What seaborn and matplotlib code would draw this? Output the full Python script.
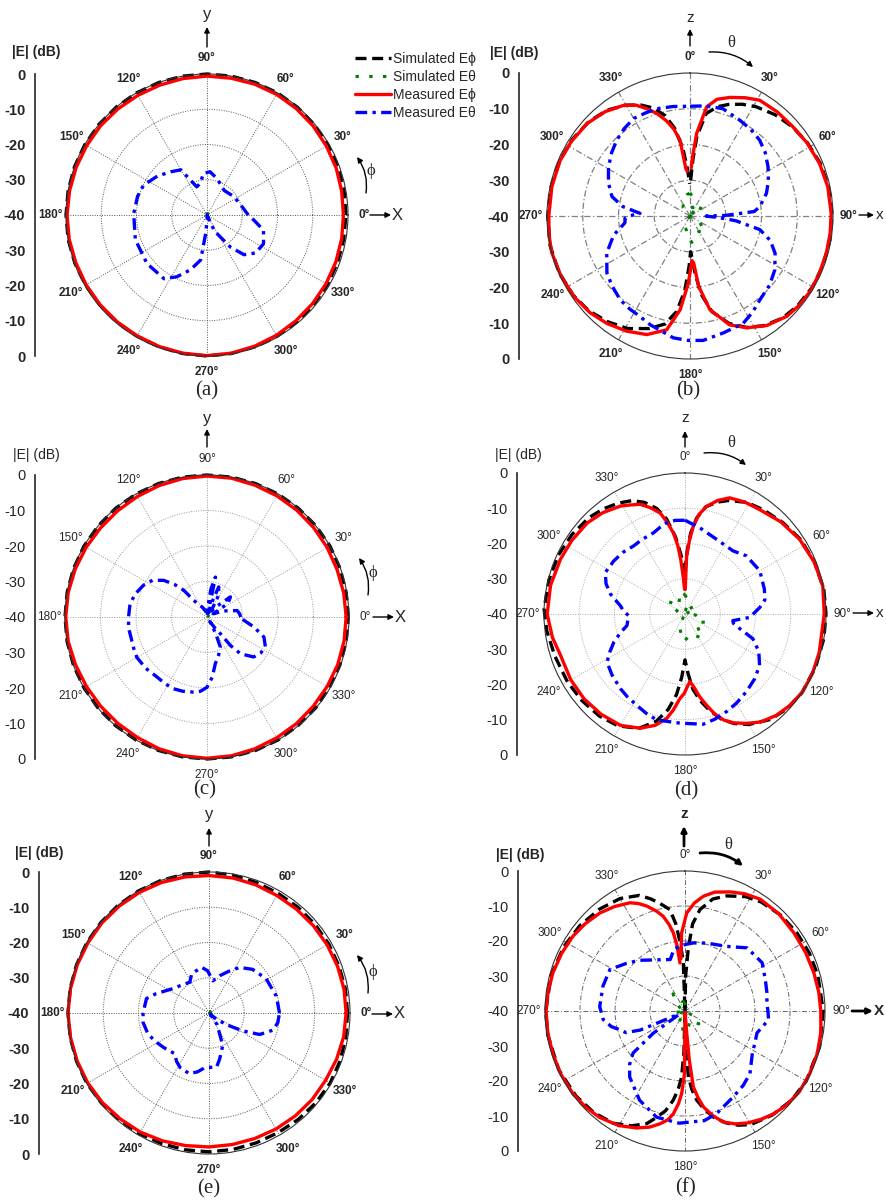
import numpy as np
import matplotlib
matplotlib.use('Agg')
import matplotlib.pyplot as plt
from matplotlib.ticker import MultipleLocator
import seaborn as sns

sns.set_style('white')
plt.rcParams['font.family'] = ['Liberation Sans', 'DejaVu Sans']

W, H = 886, 1204
ring_deg = np.arange(0, 361, 10)

# ---------------- data (angle in deg, |E| in dB) ----------------
# (a) xy-plane
a_sphi_db = [-0.6, -0.5, -0.4, -0.3, -0.2, -0.1, 0, 0, 0, 0, 0, 0,
             0, 0, 0, 0, 0, 0, 0, 0, -0.1, -0.2, -0.3, -0.3,
             -0.3, -0.2, -0.1, 0, -0.1, -0.2, -0.3, -0.4, -0.5, -0.5, -0.6, -0.6,
             -0.6]
a_mphi_db = [-1.3, -1.2, -1.0, -0.9, -0.7, -0.6, -0.5, -0.5, -0.6, -0.6, -0.7, -0.8,
             -0.8, -0.7, -0.6, -0.6, -0.5, -0.4, -0.3, -0.3, -0.4, -0.4, -0.4, -0.4,
             -0.4, -0.3, -0.2, -0.1, -0.2, -0.4, -0.6, -0.8, -0.9, -1.0, -1.1, -1.2,
             -1.3]
a_sth = [(0, -39.5), (90, -39.6), (180, -39.5), (270, -39.4), (360, -39.5)]
a_mth = [(0, -28.3), (10, -29.5), (20, -30.2), (35, -30.8), (55, -31.5), (70, -30),
         (78, -28.9), (86, -27.7), (95, -28.2), (102, -30.8), (110, -31.5), (120, -25.2),
         (130, -24), (142, -22.1), (155, -20.1), (165, -19.6), (179, -19.2), (199, -18.5),
         (219, -18.1), (236, -18.2), (244, -20.5), (253, -23.7), (262, -27.1), (266, -34.8),
         (275, -39), (285, -40), (295, -35), (306, -28.8), (313, -24.6), (322, -22.5),
         (333, -22), (345, -23.4), (354, -26.7), (360, -28.3)]

# (b) xz-plane
b_sphi = [(1, -30), (3, -24), (5, -17.5), (9, -11), (14, -8.5), (19, -7), (25, -5.5),
          (31, -4.3), (40, -3), (49, -2), (58, -1.3), (68, -0.7), (78, -0.4), (89, -0.3),
          (100, -0.3), (110, -0.3), (120, -0.4), (130, -0.8), (138, -1.5), (146, -3),
          (153, -5), (160, -8), (167, -12.5), (172, -18), (175, -24), (177, -28), (179, -30),
          (181, -26), (184, -19), (188, -13), (193, -9), (200, -6.5), (209, -4), (218, -2.5),
          (227, -1.2), (236, -0.5), (247, -0.1), (258, 0), (270, -0.2), (282, -0.3),
          (293, -0.4), (303, -0.7), (313, -1.3), (322, -2.4), (330, -4.2), (336, -6),
          (341, -8), (346, -11), (350, -15), (354, -21), (357, -27), (359.5, -31)]
b_mphi = [(1.5, -26.5), (2.5, -23.4), (4.6, -16.8), (8.7, -9.1), (13, -6.5), (18.6, -5),
          (25, -3.5), (31, -2.2), (40, -2), (49, -1.9), (58, -1.4), (68, -0.9), (78, -0.6),
          (89, -0.5), (97, -0.5), (105, -0.5), (114, -0.4), (122, -0.3), (130, -0.6),
          (136, -1), (145, -2.6), (153, -4.9), (160, -7.6), (168, -13.2), (173, -20.2),
          (175.5, -26.8), (177.5, -27.5), (179.5, -25), (181.4, -21.2), (186, -13.6),
          (191.6, -7.5), (200, -4.7), (209, -3.2), (217.8, -2), (226, -1.1), (235, -0.5),
          (245, -0.2), (255, 0), (262, -0.2), (270, -0.5), (282, -0.5), (293, -0.5),
          (302, -0.8), (312, -1.3), (321, -2.4), (329, -3.9), (334, -5.5), (338, -7.6),
          (342, -9.8), (346, -12.5), (349.5, -15.3), (352.5, -18.6), (355, -26.7),
          (356.5, -27.5)]
b_sth = [(0, -33.5), (10, -35), (20, -38), (30, -40), (40, -37), (49, -35.7), (60, -37),
         (75, -40), (90, -40), (105, -40), (120, -37), (137, -34), (150, -35), (165, -34),
         (176, -32.6), (185, -34), (195, -36), (204, -36.5), (215, -38), (230, -40),
         (260, -40), (290, -40), (320, -37), (335, -35.5), (344, -34.9), (352, -34),
         (360, -33.5)]
b_mth = [(0, -9.3), (8, -8.9), (17, -8.6), (27.5, -9.8), (35, -10.4), (42.6, -11.2),
         (50, -12.5), (57.8, -14.2), (66, -16), (73.5, -17.7), (82.4, -20.3), (86, -22),
         (89, -30), (90.5, -35.5), (93, -32), (96, -27), (98, -25), (101, -20.1),
         (107, -16.5), (113.7, -14), (122.4, -11.9), (131, -10.5), (140, -9.5), (147, -7.9),
         (153.6, -6.5), (164, -6), (174, -5), (181, -5.2), (187.8, -5.6), (200, -7.6),
         (206.4, -8.6), (213, -9), (219.8, -9.5), (228, -10.7), (235.5, -11.8), (246, -14.5),
         (256, -18), (264, -21.7), (268, -21.8), (271, -24), (273, -26), (278, -21),
         (284, -17.5), (292, -15.4), (301, -13.4), (309, -11.8), (316, -10.5), (323, -9.4),
         (330, -8.5), (337, -8.6), (342.8, -8.6), (351, -9), (360, -9.3)]

# (c) xy-plane
c_sphi_db = [-0.2, -0.2, -0.1, 0, 0, 0, 0, 0, 0, 0, 0, 0,
             0, 0, 0, 0, 0, 0, 0, 0, 0, 0, 0, 0,
             0, 0, 0, 0, 0, 0, 0, -0.1, -0.1, -0.2, -0.2, -0.2,
             -0.2]
c_mphi_db = [-0.8, -0.9, -1.0, -0.9, -0.8, -0.7, -0.6, -0.5, -0.3, -0.3, -0.4, -0.6,
             -0.8, -0.9, -0.9, -0.7, -0.5, -0.3, -0.2, -0.3, -0.6, -0.8, -0.9, -0.9,
             -0.8, -0.5, -0.3, -0.2, -0.3, -0.5, -0.7, -0.8, -0.9, -0.9, -0.8, -0.8,
             -0.8]
c_sth = [(0, -39.3), (90, -39.5), (180, -39.4), (270, -39.5), (360, -39.3)]
c_mth = [(0, -30.5), (6, -30.8), (12, -31.3), (20, -35), (27, -38), (33, -33),
         (40.6, -31.3), (48, -36), (55, -38), (62, -33), (68.7, -30.9), (72, -36), (75, -39),
         (78, -28.5), (82, -32), (88, -38), (100, -38.5), (115, -37), (128.7, -34), (131, -30),
         (135, -27), (139.8, -24), (146, -21.5), (153.4, -20), (162, -18.8), (170.3, -18),
         (180, -17.9), (188, -17.7), (197, -17.8), (204, -17.5), (210, -17.2), (220, -17.5),
         (230, -18), (238, -17.8), (245, -17.7), (252, -18), (260, -18.5), (265, -19),
         (270, -20.2), (275, -23), (280, -26.6), (287, -28.8), (294, -30.8), (298, -35),
         (302, -38.5), (306, -36), (308.7, -34), (309.5, -29.6), (312.3, -26), (319.4, -22.7),
         (326, -21.8), (332.8, -21.5), (340.6, -23), (348, -26.5), (355, -29.6), (360, -30.5)]

# (d) xz-plane
d_sphi = [(0, -28), (2, -22), (4, -17), (7, -12.5), (11, -9), (16, -7), (21, -5.5),
          (29, -3.8), (37, -3), (47, -2), (57, -1), (68, -0.4), (80, 0), (90, 0), (100, 0),
          (112, 0), (124, 0), (133, -0.5), (141, -1.5), (150, -3.8), (156, -6), (161, -8.5),
          (166, -12), (170, -15), (174, -18.5), (177, -23), (180, -27), (183, -22), (186, -17),
          (190, -12.5), (195, -8.5), (202, -5), (211, -3), (220, -2.2), (230, -1.8),
          (240, -1.5), (252, -1.2), (263, -0.5), (272, 0), (284, -0.2), (295, -0.4),
          (305, -0.8), (315, -1.4), (322, -2.2), (329, -3.3), (335, -4.5), (340, -6.3),
          (345, -9), (349, -12.5), (353, -18), (356, -23), (359, -27), (360, -28)]
d_mphi = [(0.5, -33), (1.6, -23.5), (3.5, -19), (5.4, -15), (8, -11.5), (11.3, -8.9),
          (16, -6.5), (21, -4.7), (28, -4), (35.5, -3.6), (46, -2.3), (56.9, -1.2),
          (68, -0.5), (78.4, -0.1), (90, -0.5), (105.9, -0.4), (115, -0.1), (123.5, 0),
          (131, -0.5), (138, -1.3), (145, -2.6), (150.7, -4.4), (156, -6.2), (160, -8),
          (163.5, -10.5), (166.7, -13.4), (170, -16.2), (172.4, -18.6), (175.8, -20.8),
          (178, -19.5), (180.5, -17.5), (183.4, -16), (187, -12.5), (190, -9.9), (195, -7.3),
          (201.4, -5.2), (210, -3.5), (220, -2.9), (230, -2.6), (240, -2.6), (251.6, -2.8),
          (260, -1.8), (270, -0.9), (282, -1), (293.7, -1.4), (303, -1.7), (313, -2.1),
          (321, -3), (329, -4.3), (333, -5.3), (337.8, -6.4), (342, -8.3), (346.2, -10.5),
          (349, -13.5), (351.9, -16.8), (354, -20.5), (355.5, -24.4), (357.5, -30), (359, -33)]
d_sth = [(0, -34.5), (10, -36), (25, -40), (40, -38), (51, -36.4), (65, -38), (80, -40),
         (95, -37), (112, -33.9), (128, -36), (145, -31.7), (163, -34), (182, -32.3),
         (195, -35), (207, -36.8), (225, -40), (260, -40), (285, -38), (307, -34.3),
         (325, -37), (347, -33.6), (360, -34.5)]
d_mth = [(0, -13.4), (9.8, -15.2), (22.9, -17), (37.3, -17.5), (46.6, -16), (60, -15.5),
         (72.6, -16.4), (80, -17), (85, -18.7), (93, -21.6), (97.9, -26.3), (101, -26),
         (105, -23.9), (110, -19.5), (117, -16.5), (124.6, -14.3), (133, -13), (141.8, -11.9),
         (150, -10.8), (157, -9.9), (164, -9), (170.6, -8.3), (182.6, -9), (194.9, -8.9),
         (201, -9.7), (207.8, -10.7), (215, -11.4), (220.9, -12), (230, -13), (238.3, -14),
         (243, -16), (248.4, -18.3), (254, -21), (258.7, -23.2), (268.3, -24), (273, -22.5),
         (277.3, -21.5), (285, -18.1), (291, -16), (297.5, -14.5), (306.7, -14.8),
         (315, -15.2), (322.9, -15.8), (330, -15.6), (338.8, -15.3), (344, -14.4),
         (348.7, -13.6), (354, -13.3), (360, -13.4)]

# (e) xy-plane
e_sphi_db = [-0.7, -0.7, -0.8, -0.8, -0.8, -0.8, -0.8, -0.6, -0.3, 0, 0, 0,
             0, 0, 0, 0, 0, 0, 0, 0, 0, 0, -0.2, -0.4,
             -0.5, -0.6, -0.6, -0.6, -0.7, -0.8, -0.8, -0.6, -0.4, -0.3, -0.4, -0.6,
             -0.7]
e_mphi_db = [-1.1, -1.1, -1.2, -1.3, -1.4, -1.5, -1.5, -1.3, -1.1, -1.0, -0.8, -0.6,
             -0.5, -0.4, -0.3, -0.3, -0.2, -0.1, 0, -0.1, -0.2, -0.3, -0.5, -0.8,
             -1.0, -1.4, -1.8, -2.0, -2.1, -2.1, -2.0, -1.9, -1.8, -1.8, -1.5, -1.2,
             -1.1]
e_sth = [(0, -39.2), (90, -39.4), (180, -39.3), (270, -39.5), (360, -39.2)]
e_mth = [(0, -20), (14, -20.3), (31, -21.1), (45, -22.5), (56, -24.4), (65, -27), (74, -29),
         (83, -30.8), (92, -28), (99, -26.9), (107, -27.5), (114, -27.9), (122, -29.7),
         (137, -28.7), (145, -27.8), (152, -26.4), (160, -24), (167, -21.8), (180, -21.3),
         (188, -21.1), (199, -21.7), (208, -22.8), (217, -23.8), (230, -24.9), (236, -23.5),
         (242, -22.5), (252, -21.9), (259, -23), (266, -24.5), (278, -24.5), (283, -26.6),
         (293, -30), (305, -36), (315, -39.5), (320, -37), (328, -33.1), (332, -29.2),
         (337, -24.4), (345, -21.2), (352, -20.3), (360, -20)]

# (f) xz-plane
f_sphi = [(0.5, -40), (1, -30), (3, -22), (5, -15), (8.4, -10.7), (14, -7), (20, -5),
          (28, -3), (35, -2), (45, -1.3), (55, -1), (65, -0.8), (75, -0.7), (90, -0.5),
          (105, -0.2), (120, 0), (130, -0.3), (140, -1.2), (150, -2.5), (155, -4), (160, -6),
          (165, -8.6), (169, -11.5), (172.5, -14.3), (175, -17.5), (177, -21), (178.5, -28),
          (179.5, -40), (180.5, -40), (181.5, -28), (183, -21), (185, -17.5), (187.5, -14.3),
          (191, -11), (195, -8.5), (198.8, -6), (205, -3.8), (212.7, -1.9), (222, -1),
          (232, -0.5), (245, -0.2), (260, -0.2), (270, -0.2), (285, -0.4), (298, -0.8),
          (309, -1.3), (320, -2), (330, -2.9), (338.5, -4.5), (343, -6.5), (347, -8.5),
          (351.5, -10.7), (354, -15), (356, -20.5), (358, -26), (359.5, -40)]
f_mphi = [(355.5, -25), (357.5, -17.7), (1, -12), (5, -9), (9.1, -6.8), (14, -5),
          (20.8, -3.6), (27, -2.4), (34, -1.5), (44, -1.4), (54.4, -1.7), (64, -1.7),
          (73.6, -1.6), (82, -1.4), (90, -1.2), (99, -0.7), (107.8, -0.3), (117, -0.1),
          (125.6, 0), (133, -0.5), (139.2, -1.2), (145, -2.2), (151, -3.4), (156, -4.7),
          (160.9, -6.4), (165, -9), (169, -12), (171.5, -15), (173.7, -18.2), (175, -25.8),
          (175.5, -33.6), (176, -39.5), (179.5, -39), (180.5, -22), (182.3, -16.4),
          (184, -13.5), (186.5, -10.4), (189, -8.5), (192.5, -7), (197, -5.3), (202.6, -3.8),
          (210, -2.2), (218.8, -1), (226, -0.5), (233.6, -0.2), (243, -0.2), (252, -0.3),
          (261, -0.3), (270, -0.3), (278, -0.5), (286, -0.7), (295, -1.1), (303.6, -1.5),
          (311, -2.1), (319, -2.9), (326, -4), (333, -5.3), (336.5, -6.5), (340, -8.1),
          (344, -10.3), (347, -12.2), (349.5, -14.8), (351.5, -17.4), (353, -21), (354, -26.2)]
f_sth = [(0, -37.4), (20, -40), (60, -40), (100, -40), (120, -37), (133, -34.6), (150, -37),
         (170, -35), (185, -33.8), (197, -37), (209, -36.4), (230, -40), (245, -38),
         (261, -36.6), (280, -40), (305, -38), (325, -34), (340, -37), (360, -37.4)]
f_mth = [(0, -21), (7, -20.4), (18, -19.6), (33, -18), (44.5, -14.7), (58, -14), (69, -15.4),
         (77, -16), (85, -16.5), (90, -16.3), (96, -16), (107, -18.5), (115, -18),
         (122, -17.3), (134, -14.2), (142, -13), (151, -11.8), (163, -9.3), (170, -8.2),
         (183, -7.9), (195, -8.6), (207, -11.4), (220, -15.4), (226, -18), (231, -20.9),
         (235, -28.9), (240, -38), (245, -37), (246.5, -31), (247, -26), (250, -22),
         (254, -20.6), (258, -18.5), (264, -16.5), (273, -15.6), (287, -15.5), (299, -15.5),
         (309, -18.4), (318, -20.5), (328, -22.8), (344, -24.7), (350, -22), (355, -21.5),
         (360, -21)]

legend_labels = ['Simulated Eϕ', 'Simulated Eθ', 'Measured Eϕ', 'Measured Eθ']


def unzip(pairs):
    d, v = zip(*pairs)
    return np.array(d, dtype=float), np.array(v, dtype=float)


STY = [
    dict(color='black', lw=2.4, linestyle=(0, (3.3, 1.7))),
    dict(color='#008000', lw=2.2, linestyle=(0, (1.1, 3.4))),
    dict(color='#ff0000', lw=2.4, linestyle='-'),
    dict(color='#0000ff', lw=2.4, linestyle=(0, (3.5, 1.6, 1.0, 1.6))),
]

fig = plt.figure(figsize=(W / 100, H / 100), dpi=100)


def px_rect(x0, y0, w, h):
    return [x0 / W, 1 - (y0 + h) / H, w / W, h / H]


def panel(cx, cy, rad, axx, zenith, series, weight, grid_kw):
    ax = fig.add_axes(px_rect(cx - rad, cy - rad, 2 * rad, 2 * rad), projection='polar')
    if zenith:
        ax.set_theta_zero_location('N')
        ax.set_theta_direction(-1)
    for (deg, db), sty, lab in zip(series, STY, legend_labels):
        sns.lineplot(x=np.deg2rad(deg), y=db, ax=ax, sort=False, estimator=None,
                     legend=False, clip_on=False, label=lab, **sty)
    ax.set_thetamin(0)
    ax.set_thetamax(360)
    ax.set_ylim(-40, 0)
    ax.set_yticks([-30, -20, -10])
    ax.set_yticklabels([])
    ticks = np.arange(0, 360, 30)
    ax.set_xticks(np.deg2rad(ticks))
    ax.set_xticklabels([f'{t}°' for t in ticks], fontsize=8.5, fontweight=weight)
    ax.tick_params(axis='x', pad=4.5, length=3, direction='in')
    ax.grid(True, **grid_kw)
    ax.spines['polar'].set(color='#333333', lw=0.8)
    ax.set_xlabel('')
    ax.set_ylabel('')

    # dB scale on the left
    lax = fig.add_axes(px_rect(axx, cy - rad, 1, 2 * rad))
    lax.set_ylim(-40, 40)
    vals = np.arange(-40, 41, 10)
    lax.set_yticks(vals)
    lax.set_yticklabels([str(-(40 - abs(v))) if abs(v) != 40 else '0' for v in vals],
                        fontsize=10.5, fontweight=weight)
    lax.yaxis.set_minor_locator(MultipleLocator(5))
    lax.tick_params(axis='y', which='major', length=5, width=1.2, direction='out', pad=2)
    lax.tick_params(axis='y', which='minor', length=3, width=1.0, direction='out')
    lax.set_xticks([])
    for s in ['top', 'right', 'bottom']:
        lax.spines[s].set_visible(False)
    lax.spines['left'].set_linewidth(1.2)
    lax.patch.set_visible(False)
    return ax


dotted = (0, (1, 1.5))
dashdot = (0, (5, 2, 1, 2))

ax_a = panel(207, 215, 141, 35, False,
             [(ring_deg, np.array(a_sphi_db)), unzip(a_sth), (ring_deg, np.array(a_mphi_db)), unzip(a_mth)],
             'bold', dict(color='#555555', lw=0.7, linestyle=dotted))
panel(690, 216, 143, 519, True,
      [unzip(b_sphi), unzip(b_sth), unzip(b_mphi), unzip(b_mth)],
      'bold', dict(color='#808080', lw=0.9, linestyle=dashdot))
panel(207, 617, 142, 35, False,
      [(ring_deg, np.array(c_sphi_db)), unzip(c_sth), (ring_deg, np.array(c_mphi_db)), unzip(c_mth)],
      'normal', dict(color='#999999', lw=0.7, linestyle=dotted))
panel(685, 614, 141, 517, True,
      [unzip(d_sphi), unzip(d_sth), unzip(d_mphi), unzip(d_mth)],
      'normal', dict(color='#aaaaaa', lw=0.7, linestyle=dotted))
panel(209, 1013, 141, 39, False,
      [(ring_deg, np.array(e_sphi_db)), unzip(e_sth), (ring_deg, np.array(e_mphi_db)), unzip(e_mth)],
      'bold', dict(color='#555555', lw=0.7, linestyle=dotted))
panel(685, 1011, 140, 518, True,
      [unzip(f_sphi), unzip(f_sth), unzip(f_mphi), unzip(f_mth)],
      'normal', dict(color='#666666', lw=0.7, linestyle=dashdot))

fig.legend(handles=ax_a.lines[:4], labels=legend_labels, loc='upper left',
           bbox_to_anchor=(355 / W, 1 - 52 / H), frameon=False, fontsize=10,
           handlelength=2.6, handletextpad=0.15, labelspacing=0.28,
           borderpad=0, borderaxespad=0)

# overlay for annotations in pixel coordinates
ov = fig.add_axes([0, 0, 1, 1], zorder=10)
ov.set_xlim(0, W)
ov.set_ylim(H, 0)
ov.axis('off')
ov.patch.set_alpha(0)


def arrow(x0, y0, x1, y1, rad=0.0, lw=1.0):
    ov.annotate('', xy=(x1, y1), xytext=(x0, y0),
                arrowprops=dict(arrowstyle='-|>', color='black', lw=lw, mutation_scale=8,
                                shrinkA=0, shrinkB=0, connectionstyle=f'arc3,rad={rad}'))


def txt(x, y, s, size=11, weight='normal', family=None):
    kw = dict(fontsize=size, fontweight=weight, ha='center', va='center')
    if family:
        kw['family'] = family
    ov.text(x, y, s, **kw)


serif = ['Liberation Serif', 'DejaVu Serif']

# (a)
txt(207, 14, 'y', 12)
arrow(207, 47, 207, 27)
txt(397, 215, 'X', 12)
arrow(370, 215, 391, 215)
arrow(366, 193, 357, 157, rad=0.2)
txt(371, 171, 'ϕ', 12, family=serif)
# (b)
txt(690, 18, 'z', 11)
arrow(690, 46, 690, 29)
arrow(709, 52, 753, 67, rad=-0.2)
txt(731, 43, 'θ', 12, family=serif)
txt(880, 215, 'x', 11)
arrow(859, 215, 874, 215)
# (c)
txt(207, 418, 'y', 12)
arrow(207, 447, 207, 429)
txt(400, 617, 'X', 12)
arrow(373, 617, 394, 617)
arrow(368, 595, 359, 558, rad=0.2)
txt(373, 573, 'ϕ', 12, family=serif)
# (d)
txt(685, 418, 'z', 11)
arrow(685, 447, 685, 431)
arrow(704, 453, 746, 465, rad=-0.2)
txt(731, 443, 'θ', 12, family=serif)
txt(880, 613, 'x', 11)
arrow(853, 613, 874, 613)
# (e)
txt(209, 815, 'y', 12)
arrow(209, 846, 209, 828)
txt(399, 1014, 'X', 12)
arrow(372, 1014, 393, 1014)
arrow(368, 993, 357, 955, rad=0.2)
txt(373, 972, 'ϕ', 12, family=serif)
# (f)
txt(684, 814, 'z', 11, 'bold')
arrow(684, 846, 684, 826, lw=2)
arrow(700, 853, 743, 866, rad=-0.2, lw=2)
txt(728, 845, 'θ', 12, family=serif)
txt(879, 1011, 'X', 11, 'bold')
arrow(852, 1011, 873, 1011, lw=2)

# axis titles
for (x, y, w) in [(36, 52, 'bold'), (514, 53, 'bold'), (36, 455, 'normal'),
                  (518, 455, 'normal'), (39, 853, 'bold'), (520, 855, 'bold')]:
    txt(x, y, '|E| (dB)', 10, w)

# captions
for (x, y, s) in [(207, 391, '(a)'), (688, 391, '(b)'), (205, 790, '(c)'),
                  (686, 791, '(d)'), (209, 1189, '(e)'), (686, 1188, '(f)')]:
    txt(x, y, s, 15, family=serif)

fig.savefig('out.png', dpi=100, facecolor='white')
